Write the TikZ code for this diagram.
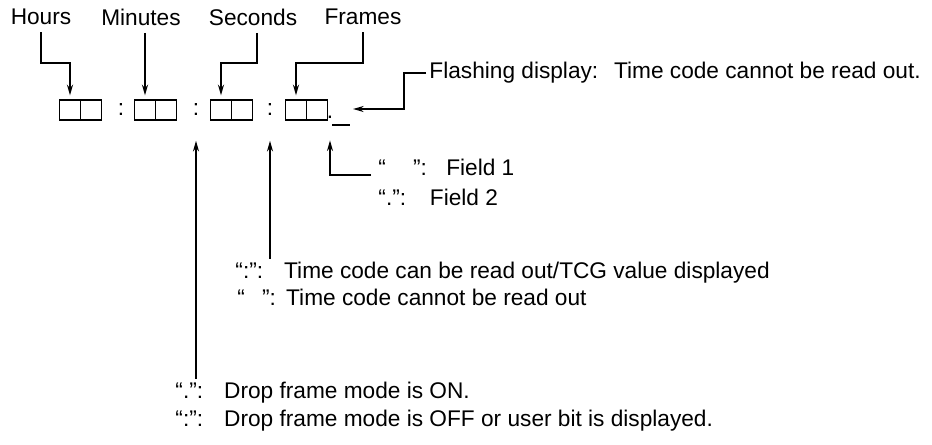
\documentclass[tikz,border=0pt]{standalone}
\usepackage{fontspec}
\setmainfont{Liberation Sans}
\usetikzlibrary{arrows.meta}

\newcommand{\qlead}[1]{\makebox[2.15em][l]{#1}}

\begin{document}
\begin{tikzpicture}[>={Stealth[length=8pt,width=4.5pt]}, very thick, x=0.75pt, y=-0.75pt,
  every node/.style={inner sep=2pt, font=\fontsize{17}{20}\selectfont},
  digit/.style={draw, line width=1pt, minimum width=15.5pt, minimum height=15pt, inner sep=0pt}]

\useasboundingbox (0,0) rectangle (932,444);

% field labels
\node (hours) at (41,17) {Hours};
\node (minutes) at (141,17) {Minutes};
\node (seconds) at (253,17) {Seconds};
\node (frames) at (363,17) {Frames};

% display boxes
\node[digit] (h1) at (70,110) {};
\node[digit] (h2) at (91,110) {};
\node (c1) at (121,110) {:};
\node[digit] (m1) at (145,110) {};
\node[digit] (m2) at (166,110) {};
\node (c2) at (196,110) {:};
\node[digit] (s1) at (221,110) {};
\node[digit] (s2) at (242,110) {};
\node (c3) at (270,110) {:};
\node[digit] (f1) at (296,110) {};
\node[digit] (f2) at (317,110) {};
\node (fd) at (330,117) {.};
\draw[line width=1pt] (332,125) -- (350,125);

% notes
\node[anchor=west] (flash) at (426,73) {Flashing display:\hspace{0.7em}Time code cannot be read out.};
\node[anchor=west] (field1) at (375,167) {“\hspace{1.2em}”:\hspace{0.85em}Field 1};
\node[anchor=west] (field2) at (375,197) {“.”:\hspace{1.05em}Field 2};
\node[anchor=west] (timeok) at (232,273) {\qlead{“:”:}Time code can be read out/TCG value displayed};
\node[anchor=west] (timeno) at (234,297) {\qlead{“\hspace{0.75em}”:}Time code cannot be read out};
\node[anchor=west] (dropon) at (172,393) {\qlead{“.”:}Drop frame mode is ON.};
\node[anchor=west] (dropoff) at (172,421) {\qlead{“:”:}Drop frame mode is OFF or user bit is displayed.};

% labels -> boxes
\coordinate (bend) at (0,63);
\draw[->, shorten <=3pt, shorten >=3pt] (hours.south) -- (hours.south |- bend) -| (h1.north);
\draw[->, shorten <=3pt, shorten >=3pt] (m1.north |- minutes.south) -- (m1.north);
\draw[->, shorten <=3pt, shorten >=3pt] ([xshift=3pt]seconds.south) -- ([xshift=3pt]seconds.south |- bend) -| (s1.north);
\draw[->, shorten <=3pt, shorten >=3pt] (frames.south) -- (frames.south |- bend) -| (f1.north);

% notes -> display
\coordinate (flashtip) at (353,109);
\draw[->] (flash.west) -- ++(-22,0) |- (flashtip);
\draw[->, shorten >=14pt] ([xshift=-3pt]field1.base west) -| (fd.south);
\draw[->, shorten >=16pt] (timeok.north -| c3) -- (c3.south);
\draw[->, shorten >=16pt] (dropon.north -| c2) -- (c2.south);

\end{tikzpicture}
\end{document}
